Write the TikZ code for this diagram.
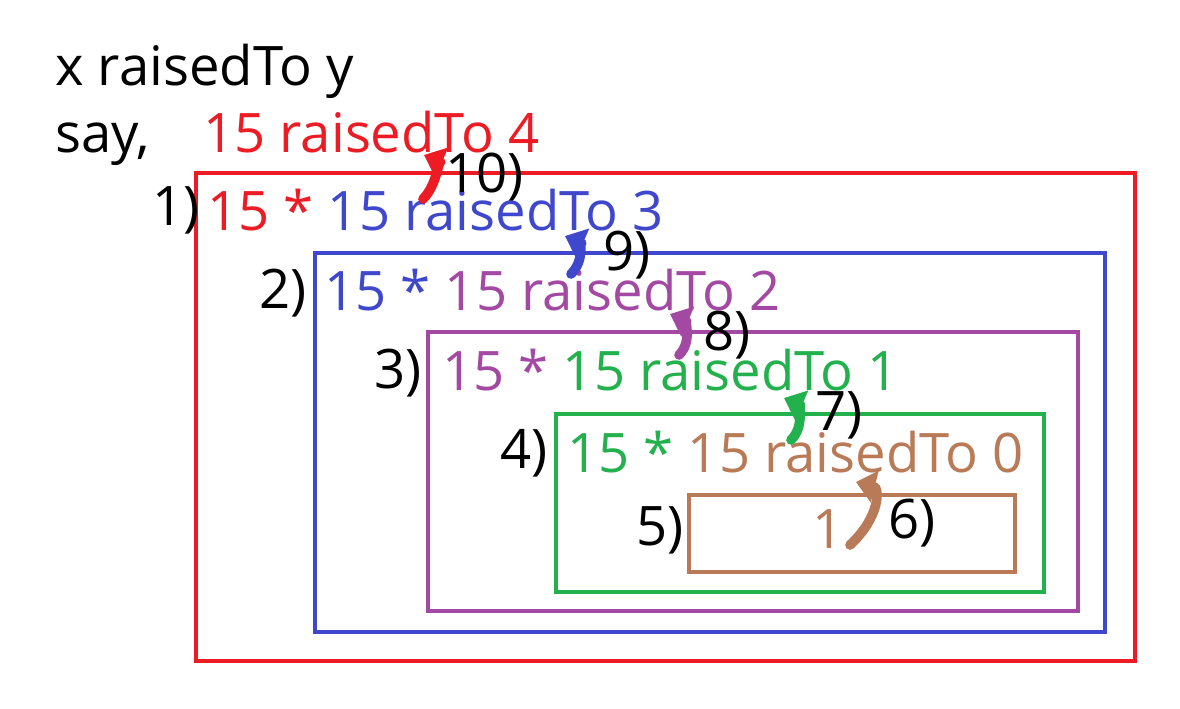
\documentclass[tikz,border=0pt]{standalone}
\usepackage{fontspec}
\setmainfont{Open Sans}
\usetikzlibrary{arrows.meta,positioning}

\definecolor{callred}{HTML}{ED1C24}
\definecolor{callblue}{HTML}{3F48CC}
\definecolor{callpurple}{HTML}{A349A4}
\definecolor{callgreen}{HTML}{22B14C}
\definecolor{callbrown}{HTML}{B97A57}

\tikzset{
  txt/.style={anchor=base west, inner sep=0pt, font=\fontsize{31}{37}\selectfont},
  box/.style={line width=2.3pt},
  ret/.style={line width=5.5pt, line cap=round, -{Triangle[length=11pt,width=18pt]}},
}

\begin{document}
\begin{tikzpicture}[x=0.02cm,y=-0.02cm]
	\useasboundingbox (0,0) rectangle (1180,708);
	% Heading
	\node[txt] (title) at (55,85) {x raisedTo y};
	\node[txt] (say) at (55,152) {say,};
	\node[txt,callred] (call) at (203,152) {15 raisedTo 4};
	
	% Nested calls - one box per level
	\draw[box,callred] (196,173) rectangle (1135,661);
	\draw[box,callblue] (315,253) rectangle (1105,632);
	\draw[box,callpurple] (428,332) rectangle (1078,611);
	\draw[box,callgreen] (556,414) rectangle (1044,592);
	\draw[box,callbrown] (689,495) rectangle (1015,572);
	
	\node[txt] (s1) at (152,225) {1)};
	\node[txt] (r1) at (207,230) {\textcolor{callred}{15 * }\textcolor{callblue}{15 raisedTo 3}};
	\node[txt] (s2) at (259,308) {2)};
	\node[txt] (r2) at (324,310) {\textcolor{callblue}{15 * }\textcolor{callpurple}{15 raisedTo 2}};
	\node[txt] (s3) at (374,388) {3)};
	\node[txt] (r3) at (442,390) {\textcolor{callpurple}{15 * }\textcolor{callgreen}{15 raisedTo 1}};
	\node[txt] (s4) at (500,468) {4)};
	\node[txt] (r4) at (567,472) {\textcolor{callgreen}{15 * }\textcolor{callbrown}{15 raisedTo 0}};
	\node[txt] (s5) at (636,545) {5)};
	\node[txt,callbrown] (r5) at (812,548) {1};
	
	% Returns - hooks going back up
	\coordinate (t6) at (850,545); \coordinate (h6) at (856,482);
	\draw[ret,callbrown] (t6) .. controls +(30,-28) and +(24,6) .. (h6);
	\node[txt] (s6) at (888,538) {6)};
	\coordinate (t7) at (791,440); \coordinate (h7) at (784,398);
	\draw[ret,callgreen] (t7) .. controls +(14,-14) and +(14,6) .. (h7);
	\node[txt] (s7) at (815,430) {7)};
	\coordinate (t8) at (679,355); \coordinate (h8) at (670,314);
	\draw[ret,callpurple] (t8) .. controls +(14,-14) and +(14,6) .. (h8);
	\node[txt] (s8) at (703,350) {8)};
	\coordinate (t9) at (571,274); \coordinate (h9) at (565,236);
	\draw[ret,callblue] (t9) .. controls +(14,-14) and +(14,6) .. (h9);
	\node[txt] (s9) at (603,270) {9)};
	\coordinate (t10) at (423,199); \coordinate (h10) at (424,155);
	\draw[ret,callred] (t10) .. controls +(14,-14) and +(14,6) .. (h10);
	\node[txt] (s10) at (445,192) {10)};
\end{tikzpicture}
\end{document}
